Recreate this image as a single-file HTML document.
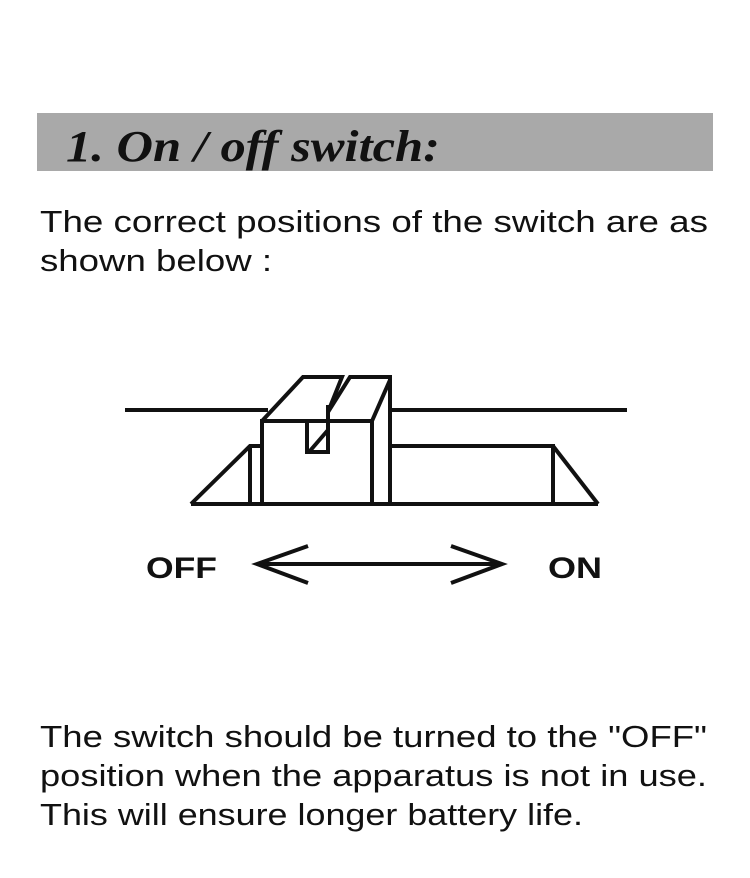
<!DOCTYPE html>
<html><head><meta charset="utf-8"><style>
html,body{margin:0;padding:0;background:#fff;}
</style></head><body>
<svg width="750" height="873" viewBox="0 0 750 873" xmlns="http://www.w3.org/2000/svg">
<rect x="37" y="113" width="676" height="58" fill="#a9a9a9"/>
<text x="66" y="161" font-family="Liberation Serif, serif" font-weight="bold" font-style="italic" font-size="44" fill="#111" textLength="374" lengthAdjust="spacingAndGlyphs">1.  On / off switch:</text>
<g font-family="Liberation Sans, sans-serif" font-size="31" fill="#111">
<text x="40" y="232" textLength="668" lengthAdjust="spacingAndGlyphs">The correct positions of the switch are as</text>
<text x="40" y="271" textLength="232" lengthAdjust="spacingAndGlyphs">shown below :</text>
<text x="40" y="747" textLength="667" lengthAdjust="spacingAndGlyphs">The switch should be turned to the "OFF"</text>
<text x="40" y="786" textLength="667" lengthAdjust="spacingAndGlyphs">position when the apparatus is not in use.</text>
<text x="40" y="825" textLength="543" lengthAdjust="spacingAndGlyphs">This will ensure longer battery life.</text>
</g>
<g stroke="#111" stroke-width="4" fill="none" stroke-linejoin="miter">
<line x1="125" y1="410" x2="268" y2="410"/>
<line x1="390" y1="410" x2="627" y2="410"/>
<line x1="191" y1="504" x2="598" y2="504"/>
<polyline points="191,504 250,446 262,446"/>
<line x1="250" y1="446" x2="250" y2="504"/>
<rect x="262" y="421" width="110" height="83"/>
<polyline points="262,421 303,377 342,377 328,412"/>
<polyline points="307,421 307,452 328,452 328,405"/>
<line x1="328" y1="430" x2="309" y2="452"/>
<polyline points="328,412 350,377 390,377 390,504"/>
<line x1="390" y1="380" x2="372" y2="421"/>
<polyline points="390,446 553,446 553,504"/>
<line x1="553" y1="446" x2="598" y2="504"/>
<line x1="257" y1="564" x2="501" y2="564"/>
<polyline points="308,546 257,564 308,583"/>
<polyline points="451,546 502,564 451,583"/>
</g>
<g font-family="Liberation Sans, sans-serif" font-weight="bold" font-size="30" fill="#111">
<text x="146" y="578" textLength="71" lengthAdjust="spacingAndGlyphs">OFF</text>
<text x="548" y="578" textLength="54" lengthAdjust="spacingAndGlyphs">ON</text>
</g>
</svg>
</body></html>
